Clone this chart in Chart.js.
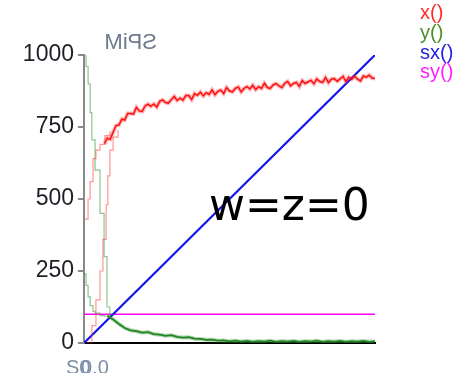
<!DOCTYPE html>
<html><head><meta charset="utf-8">
<script src="https://cdn.jsdelivr.net/npm/chart.js@4/dist/chart.umd.min.js"></script>
<style>html,body{margin:0;padding:0;background:#fff;}#wrap{width:462px;height:373px;}</style>
</head><body><div id="wrap"><canvas id="c" width="462" height="373"></canvas></div>
<script>
// ---- data ----
const yTicks = [0, 250, 500, 750, 1000];
const legendLabels = ["x()", "y()", "sx()", "sy()"];
const annotation = "w=z=0";
const mirroredTitle = "SPiM";

// main noisy x() curve, sampled every 10 units from 70 to 1000
const xMainStart = 70, xMainStep = 10;
const xMainVals = [692,711,707,732,755,757,777,774,797,797,795,818,806,804,823,829,822,830,819,839,
 844,835,833,845,856,842,850,843,859,859,845,866,860,871,858,869,863,879,862,874,
 878,866,887,875,872,884,889,872,884,890,882,895,880,890,884,902,887,884,896,901,
 893,887,902,908,893,901,905,891,911,901,907,912,900,917,908,905,922,904,916,918,
 909,917,926,908,923,916,926,916,910,927,923,930,920,918];
// early faint x() traces
const xFaintA_t = [3,14,21,31,41,55,72,89];
const xFaintA_v = [430,500,560,640,670,690,720,735];
const xFaintB_t = [10,27,41,55,65,76,82,89,100,117];
const xFaintB_v = [0,60,150,250,360,480,580,670,715,740];

// main noisy y() curve, sampled every 20 units from 80 to 1000
const yMainStart = 80, yMainStep = 20;
const yMainVals = [95,82,66,52,44,41,36,38,31,29,25,27,21,19,20,15,14,11,12,8,9,6,8,5,7,4,6,5,8,4,6,5,7,4,6,5,8,4,6,5,7,4,6,5,7,4,6];
// early faint y() traces
const yFaintC_t = [0,7,14,21,27,38,55,69,79,89];
const yFaintC_v = [1000,960,900,800,705,600,450,300,125,90];
const yFaintD_t = [0,7,14,21,31,38,55,72];
const yFaintD_v = [240,200,160,130,110,104,95,90];

// sx() and sy()
const sx_t = [0, 1000];
const sx_v = [0, 1000];
const sy_t = [0, 1000];
const sy_v = [100, 100];

function pts(ts, vs){ return vs.map((v,i)=>({x:ts[i], y:v})); }
function seq(start, step, vals){ return vals.map((v,i)=>({x:start+i*step, y:v})); }

const colors = {x:"#ff0000", xh:"rgba(255,40,40,0.35)", xf:"rgba(255,60,60,0.55)", y:"#1f7f1f", yh:"rgba(40,140,40,0.35)", yf:"rgba(60,160,60,0.6)", sx:"#1414f0", sy:"#ff00ff"};
const legendColors = ["#ff2a2a", "#4f8f2a", "#2424e0", "#ff22ff"];

const ds = (data, color, w, stepped) => ({data, borderColor:color, borderWidth:w, pointRadius:0, fill:false, tension:0, stepped:!!stepped});

const textPlugin = {
  id:"texts",
  afterDatasetsDraw(chart){
    const ctx = chart.ctx;
    ctx.save();
    ctx.fillStyle = "#000";
    ctx.font = "44px 'DejaVu Sans'";
    ctx.textBaseline = "alphabetic";
    ctx.textAlign = "left";
    ctx.fillText(annotation, 209, 220);
    // legend
    ctx.font = "20px 'Liberation Sans'";
    ctx.textBaseline = "middle";
    const ys = [13, 33, 53, 72];
    legendLabels.forEach((t,i)=>{ ctx.fillStyle = legendColors[i]; ctx.fillText(t, 420, ys[i]); });
    // mirrored title
    ctx.save();
    ctx.fillStyle = "#6f7a8e";
    ctx.font = "22px 'Liberation Sans'";
    ctx.textBaseline = "alphabetic";
    ctx.translate(157, 49);
    ctx.scale(-1, 1);
    ctx.textAlign = "left";
    ctx.fillText(mirroredTitle, 0, 0);
    ctx.restore();
    // overlapping x tick labels
    ctx.fillStyle = "#7d8fa8";
    ctx.font = "20px 'Liberation Sans'";
    ctx.textBaseline = "alphabetic";
    ctx.textAlign = "left";
    ctx.fillText("S0", 66, 374);
    ctx.fillText("0.0", 81, 374);
    ctx.restore();
  }
};

new Chart(document.getElementById("c"), {
  type:"line",
  data:{ datasets:[
    ds(pts(xFaintA_t, xFaintA_v), colors.xf, 1.2, true),
    ds(pts(xFaintB_t, xFaintB_v), colors.xf, 1.2, true),
    ds(pts(yFaintC_t, yFaintC_v), colors.yf, 1.2, true),
    ds(pts(yFaintD_t, yFaintD_v), colors.yf, 1.2, true),
    ds(seq(xMainStart, xMainStep, xMainVals), colors.xh, 4),
    ds(seq(xMainStart, xMainStep, xMainVals), colors.x, 1.5),
    ds(seq(yMainStart, yMainStep, yMainVals), colors.yh, 4),
    ds(seq(yMainStart, yMainStep, yMainVals), colors.y, 1.8),
    ds(pts(sx_t, sx_v), colors.sx, 2.2),
    ds(pts(sy_t, sy_v), colors.sy, 1.5)
  ]},
  options:{
    responsive:false, animation:false, devicePixelRatio:1,
    layout:{padding:{top:55, right:87, left:0, bottom:0}},
    plugins:{legend:{display:false}, tooltip:{enabled:false}},
    scales:{
      x:{type:"linear", min:0, max:1000,
         ticks:{display:false}, grid:{display:false, drawTicks:false},
         border:{color:"#000", width:2},
         afterFit(s){ s.height = 30; }},
      y:{type:"linear", min:0, max:1000,
         afterBuildTicks(s){ s.ticks = yTicks.map(v=>({value:v})); },
         ticks:{color:"#1e1e28", font:{family:"Liberation Sans", size:23}, padding:4, callback:(v)=>String(v)},
         grid:{drawOnChartArea:false, tickLength:6, color:"#888", lineWidth:2},
         border:{color:"#888", width:2},
         afterFit(s){ s.width = 84; }}
    }
  },
  plugins:[textPlugin]
});
</script></body></html>
